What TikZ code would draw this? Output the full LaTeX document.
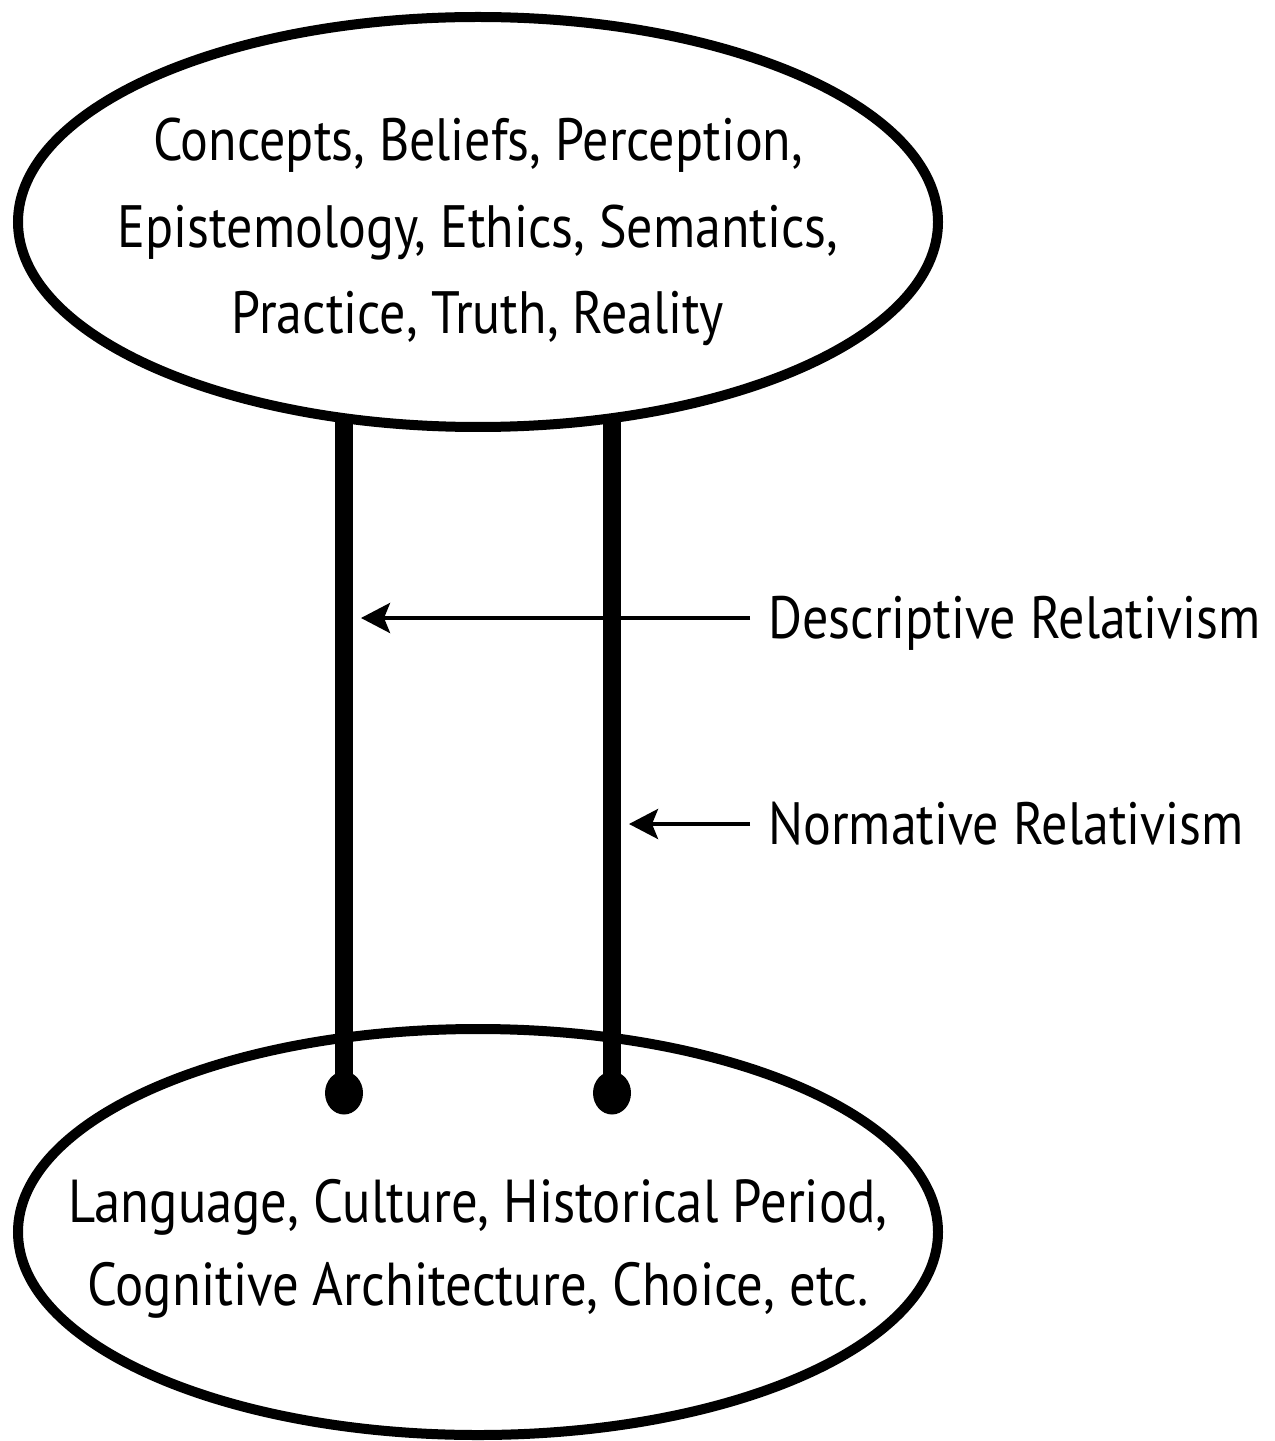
\documentclass[tikz,border=0pt]{standalone}
\usepackage{fontspec}
\setmainfont{PT Sans}[FakeStretch=0.87]
\usepackage{tikz}
\usetikzlibrary{shapes,arrows.meta,positioning,backgrounds,calc}

\begin{document}
\begin{tikzpicture}[
    sphere/.style={ellipse, draw, line width=0.2cm, inner sep=0pt, minimum width=18.4cm, minimum height=8.2cm},
    words/.style={align=center, inner sep=0pt},
    link/.style={line width=0.36cm},
    dot/.style={ellipse, fill=black, inner sep=0pt, minimum width=0.76cm, minimum height=0.86cm},
    arrow/.style={-{Stealth[length=0.58cm, width=0.6cm, inset=0.12cm]}, line width=0.08cm, shorten >=0.34cm},
    tag/.style={anchor=west, inner sep=0.36cm, text height=23.8pt, text depth=0pt, font=\fontsize{34}{40}\selectfont}
]
\useasboundingbox (0,0) rectangle (25.48,-28.82);

% Top ellipse
\node[sphere, fill=white] (top) at (9.56,-4.44) {};
\node[words, font=\fontsize{34}{49.2}\selectfont, yshift=-0.2cm] (topText) at (top.center)
    {Concepts, Beliefs, Perception,\\Epistemology, Ethics, Semantics,\\Practice, Truth, Reality};

% Bottom ellipse
\node[sphere, minimum height=8.12cm] (base) at (9.56,-24.64) {};
\node[words, font=\fontsize{34.5}{47.5}\selectfont, yshift=-0.34cm] (baseText) at (base.center)
    {Language, Culture, Historical Period,\\Cognitive Architecture, Choice, etc.};

% Line ends
\node[dot] (endL) at (6.88,-21.86) {};
\node[dot] (endR) at (12.24,-21.86) {};

% Links
\begin{scope}[on background layer]
\draw[link] (endL |- top.center) -- (endL.center);
\draw[link] (endR |- top.center) -- (endR.center);
\end{scope}

% Labels
\node[tag] (desc) at (15.0,-12.36) {Descriptive Relativism};
\node[tag] (norm) at (15.0,-16.48) {Normative Relativism};

% Arrows
\draw[arrow] (desc.west) -- (desc.west -| endL);
\draw[arrow] (norm.west) -- (norm.west -| endR);

\end{tikzpicture}
\end{document}
